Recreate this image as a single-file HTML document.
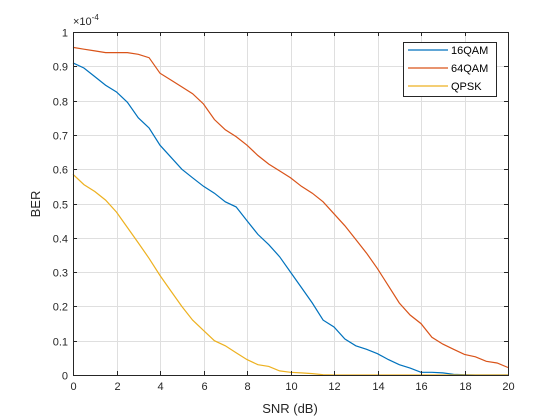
<!DOCTYPE html>
<html><head><meta charset="utf-8"><style>
body{margin:0;background:#fff;}
svg{display:block;font-family:"Liberation Sans",sans-serif;}
</style></head><body>
<svg id="chart" width="560" height="420">
<rect width="560" height="420" fill="#fff"/>
<g id="grid"></g>
<g id="series"></g>
<g id="axes"></g>
<text x="73" y="25" font-size="11" fill="#262626">×10<tspan dy="-5" font-size="8">-4</tspan></text>
<text x="290" y="413" font-size="13" text-anchor="middle" fill="#262626">SNR (dB)</text>
<text x="40" y="204" font-size="13" text-anchor="middle" fill="#262626" transform="rotate(-90 40 204)">BER</text>
<g>
<rect x="403.5" y="42.5" width="93" height="54" fill="#fff" stroke="#262626" stroke-width="1"/>
<g><line x1="408" y1="50" x2="448" y2="50" stroke="#0072BD" stroke-width="1.2"/><text x="451" y="54" font-size="11" fill="#000">16QAM</text></g>
<g><line x1="408" y1="68" x2="448" y2="68" stroke="#D95319" stroke-width="1.2"/><text x="451" y="72" font-size="11" fill="#000">64QAM</text></g>
<g><line x1="408" y1="86" x2="448" y2="86" stroke="#EDB120" stroke-width="1.2"/><text x="451" y="90" font-size="11" fill="#000">QPSK</text></g>
</g>
</svg>
<script>
const snr = [0,0.5,1,1.5,2,2.5,3,3.5,4,4.5,5,5.5,6,6.5,7,7.5,8,8.5,9,9.5,10,10.5,11,11.5,12,12.5,13,13.5,14,14.5,15,15.5,16,16.5,17,17.5,18,18.5,19,19.5,20];
const ber16 = [0.91,0.895,0.87,0.845,0.825,0.795,0.75,0.72,0.67,0.635,0.60,0.575,0.55,0.53,0.505,0.49,0.45,0.41,0.38,0.345,0.30,0.255,0.21,0.16,0.14,0.105,0.085,0.075,0.062,0.045,0.03,0.02,0.008,0.008,0.006,0.002,0.001,0,0,0,0];
const ber64 = [0.955,0.95,0.945,0.94,0.94,0.94,0.935,0.925,0.88,0.86,0.84,0.82,0.79,0.745,0.715,0.695,0.67,0.64,0.615,0.595,0.575,0.55,0.53,0.505,0.47,0.435,0.395,0.355,0.31,0.26,0.21,0.175,0.15,0.11,0.09,0.075,0.06,0.053,0.04,0.035,0.022];
const berQ = [0.585,0.555,0.535,0.51,0.475,0.43,0.385,0.34,0.29,0.245,0.2,0.16,0.13,0.10,0.085,0.065,0.045,0.03,0.025,0.012,0.008,0.006,0.004,0.001,0,0,0,0,0,0,0,0,0,0,0,0,0,0,0,0,0];
const xTicks = [0,2,4,6,8,10,12,14,16,18,20];
const yTicks = [0,0.1,0.2,0.3,0.4,0.5,0.6,0.7,0.8,0.9,1];
const yTickLabels = ["0","0.1","0.2","0.3","0.4","0.5","0.6","0.7","0.8","0.9","1"];

const L=73,R=508,T=32,B=375;
const xs=v=>L+(v-0)/(20-0)*(R-L);
const ys=v=>B-(v-0)/(1-0)*(B-T);
const NS='http://www.w3.org/2000/svg';
function mk(tag,parent,attrs){const e=document.createElementNS(NS,tag);for(const k in attrs)e.setAttribute(k,attrs[k]);parent.appendChild(e);return e;}
const grid=document.getElementById('grid'),axes=document.getElementById('axes'),series=document.getElementById('series');
xTicks.forEach(t=>{const x=Math.round(xs(t))+0.5;
 const g=mk('line',grid,{x1:x,x2:x,y1:T,y2:B,stroke:'#dfdfdf','stroke-width':1});
 
 mk('line',axes,{x1:x,x2:x,y1:B,y2:B-4,stroke:'#262626'});
 mk('line',axes,{x1:x,x2:x,y1:T,y2:T+4,stroke:'#262626'});
 const tx=mk('text',axes,{x:x,y:B+15,'font-size':11,'text-anchor':'middle',fill:'#262626'});tx.textContent=t;
 });
yTicks.forEach((t,i)=>{const y=Math.round(ys(t))+0.5;
 const g=mk('line',grid,{x1:L,x2:R,y1:y,y2:y,stroke:'#dfdfdf','stroke-width':1});
 
 mk('line',axes,{x1:L,x2:L+4,y1:y,y2:y,stroke:'#262626'});
 mk('line',axes,{x1:R,x2:R-4,y1:y,y2:y,stroke:'#262626'});
 const tx=mk('text',axes,{x:L-5,y:y+4,'font-size':11,'text-anchor':'end',fill:'#262626'});tx.textContent=yTickLabels[i];
 });
const box=mk('rect',axes,{x:L+0.5,y:T+0.5,width:R-L,height:B-T,fill:'none',stroke:'#262626'});

function line(data,color,name){const d=data.map((v,i)=>(i?'L':'M')+xs(snr[i]).toFixed(1)+','+ys(v).toFixed(1)).join('');
 const p=mk('path',series,{d:d,fill:'none',stroke:color,'stroke-width':1.2});
 }
line(ber16,'#0072BD','line-16qam');
line(ber64,'#D95319','line-64qam');
line(berQ,'#EDB120','line-qpsk');
</script>
</body></html>
